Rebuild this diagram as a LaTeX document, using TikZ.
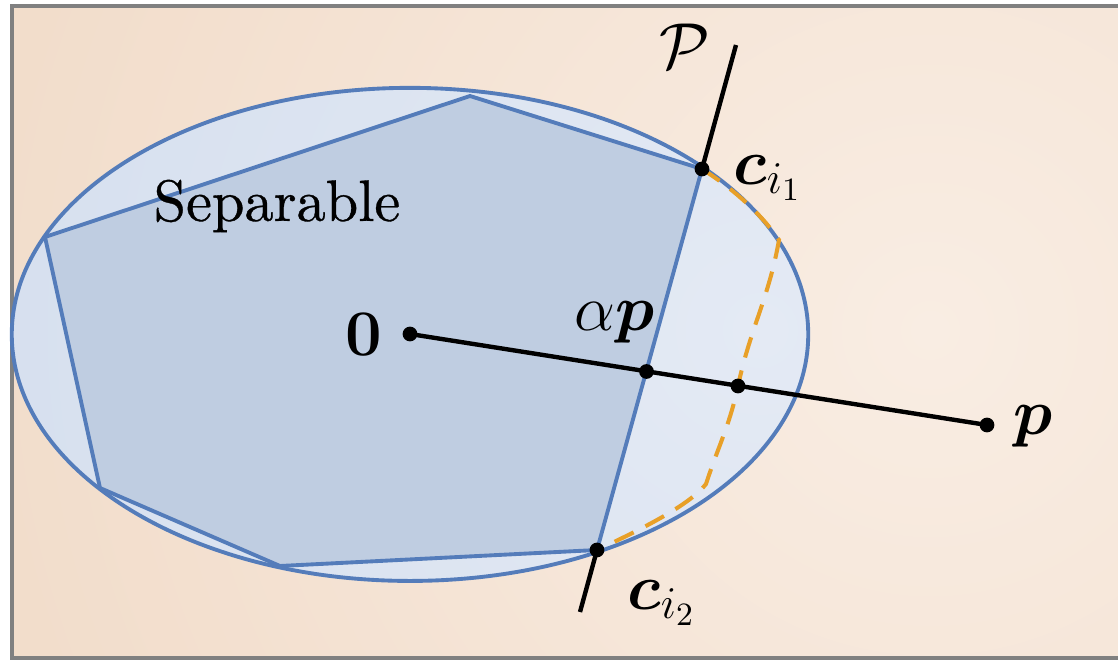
\RequirePackage{fix-cm}
\documentclass[tikz,border=0pt]{standalone}
\usepackage{amsmath,bm}
\usepackage[no-math]{fontspec}
\newfontfamily\sepfont{lmroman10-regular.otf}[FakeBold=0.6]
\definecolor{bgin}{RGB}{249,237,227}
\definecolor{bgout}{RGB}{239,215,194}
\definecolor{ellin}{RGB}{228,234,244}
\definecolor{ellout}{RGB}{212,222,238}
\definecolor{polyfill}{RGB}{191,205,225}
\definecolor{bline}{RGB}{84,124,186}
\definecolor{dashor}{RGB}{232,160,40}
\definecolor{framegray}{RGB}{128,128,128}
\tikzset{
  blueline/.style={draw=bline, line width=1.1pt, line join=round},
  blackline/.style={draw=black, line width=1.25pt},
  dashline/.style={draw=dashor, line width=1.15pt, dash pattern=on 6pt off 3.8pt},
  lbl/.style={inner sep=0pt, font=\fontsize{18.5}{22}\selectfont},
  seplbl/.style={inner sep=0pt, font=\sepfont\fontsize{16.6}{20}\selectfont},
  dot/.style={fill=black}
}
\begin{document}
\begin{tikzpicture}[x=0.01cm,y=-0.01cm]
\useasboundingbox (0,0) rectangle (1118,661);
% background
\begin{scope}
  \clip (12,6) rectangle (1118,658);
  \fill[inner color=bgin, outer color=bgout] (930,330) circle (13cm);
\end{scope}
\draw[framegray, line width=1.2pt] (1118,6) -- (12,6) -- (12,658) -- (1118,658);
% key points
\coordinate (O) at (410,334);
\coordinate (P) at (987,425);
\coordinate (C1) at (702,169);
\coordinate (C2) at (597,550);
\coordinate (V1) at (470,96);
\coordinate (V4) at (280,566);
\coordinate (V5) at (100,488);
\coordinate (V6) at (45,237);
\coordinate (AP) at (646.5,371.5);
\coordinate (Q) at (738,386);
\coordinate (Ltop) at (736,45);
\coordinate (Lbot) at (580,612);
% ellipse
\begin{scope}
  \clip (410,334.4) ellipse [x radius=3.98cm, y radius=2.464cm];
  \fill[inner color=ellin, outer color=ellout] (760,330) circle (9cm);
\end{scope}
\draw[blueline] (410,334.4) ellipse [x radius=3.98cm, y radius=2.464cm];
% polygon
\filldraw[blueline, fill=polyfill] (V1) -- (C1) -- (C2) -- (V4) -- (V5) -- (V6) -- cycle;
% dashed curve
\draw[dashline] (C1) .. controls (735,190) and (762,215) .. (779,240)
  to[out=-100,in=78] (Q) to[out=-102,in=72] (706,484)
  .. controls (690,505) and (640,530) .. (C2);
% black lines
\draw[blackline] (O) -- (P);
\draw[blackline] (Ltop) -- (C1);
\draw[blackline] (C2) -- (Lbot);
% dots
\foreach \pt in {O,P,C1,C2,AP,Q} \fill[dot] (\pt) circle (2.1pt);
% labels
\node[lbl] (Pl) at (685,46) {$\mathcal{P}$};
\node[lbl] (c1l) at (768,178) {$\bm{c}_{i_1}$};
\node[lbl] (apl) at (615,322) {$\alpha\bm{p}$};
\node[lbl] (c2l) at (662,603) {$\bm{c}_{i_2}$};
\node[lbl] (pl) at (1033,426) {$\bm{p}$};
\node[lbl] (Ol) at (364,335) {$\mathbf{0}$};
\node[seplbl] (sl) at (277,206) {Separable};
\end{tikzpicture}
\end{document}
